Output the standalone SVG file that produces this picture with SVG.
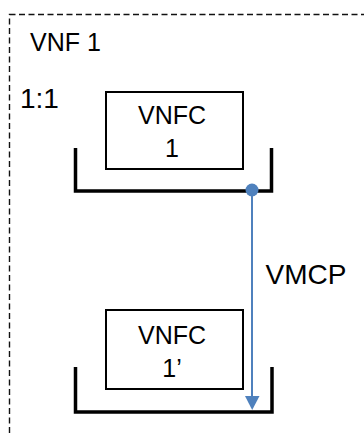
<svg xmlns="http://www.w3.org/2000/svg" width="364" height="436" viewBox="0 0 364 436">
<style>
text{font-family:"Liberation Sans",Arial,sans-serif;fill:#000}
.box{fill:#fff;stroke:#000;stroke-width:2}
.tray{fill:none;stroke:#000;stroke-width:3.5}
.lbl{font-size:25px;text-anchor:middle}
</style>
<rect x="9.5" y="14.5" width="400" height="460" fill="none" stroke="#111" stroke-width="1.4" stroke-dasharray="6,3.5"/>
<text x="30" y="51" font-size="25">VNF 1</text>
<text x="20" y="107.5" font-size="28">1:1</text>
<g id="vnfc1">
<path class="tray" d="M75.5,148 V191 H271.5 V148"/>
<rect class="box" x="106" y="92" width="137" height="77"/>
<text class="lbl" x="172" y="123.5">VNFC</text>
<text class="lbl" x="172" y="156.5">1</text>
</g>
<g id="vnfc1p">
<path class="tray" d="M75.5,367 V412 H272 V367"/>
<rect class="box" x="106" y="310" width="137" height="79"/>
<text class="lbl" x="172" y="343.5">VNFC</text>
<text class="lbl" x="172" y="376.5">1’</text>
</g>
<g id="connectors">
<line x1="252" y1="190" x2="252" y2="397" stroke="#4F81BD" stroke-width="2"/>
<path d="M245,396 L259.5,396 L252.2,410 Z" fill="#4F81BD"/>
<circle cx="252" cy="190" r="6.5" fill="#4F81BD"/>
<text x="265.5" y="283.5" font-size="28">VMCP</text>
</g>
</svg>
